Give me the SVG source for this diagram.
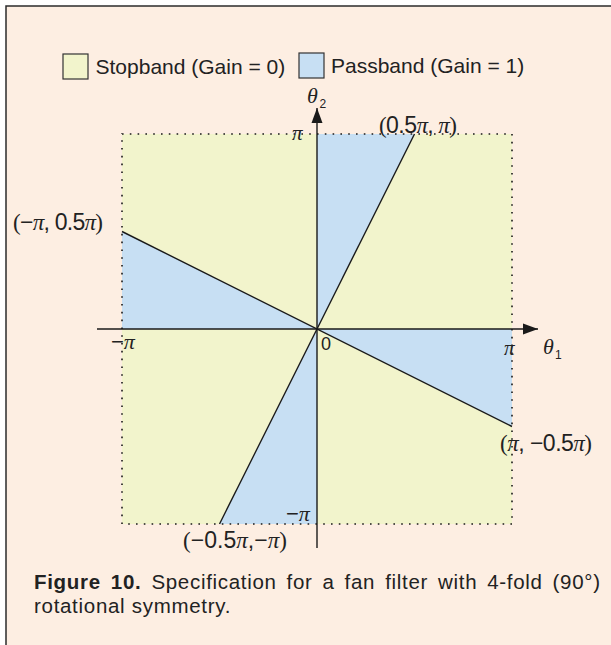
<svg xmlns="http://www.w3.org/2000/svg" width="611" height="645" viewBox="0 0 611 645">
  <defs>
    <style>
      .frame { stroke: #2b2b2b; stroke-width: 1.5; fill: none; }
      .stop { fill: #f2f4cc; }
      .pass { fill: #c7dff3; }
      .edge { stroke: #1a1a1a; stroke-width: 1.4; fill: none; }
      .dotted { stroke: #1a1a1a; stroke-width: 1.6; fill: none; stroke-dasharray: 1.6 6.2; }
      .axis { stroke: #1a1a1a; stroke-width: 1.4; fill: none; }
      .legend { font-family: "Liberation Sans", Arial, sans-serif; font-size: 21px; fill: #222; }
      .sans { font-family: "Liberation Sans", Arial, sans-serif; fill: #222; }
      .serif { font-family: "Liberation Serif", "Times New Roman", serif; }
      .it { font-family: "Liberation Serif", "Times New Roman", serif; font-style: italic; }
      .sub { font-family: "Liberation Sans", Arial, sans-serif; font-size: 12px; fill: #222; }
      .math { font-size: 23px; fill: #222; }
      .cap { font-family: "Liberation Sans", Arial, sans-serif; font-size: 20.5px; letter-spacing: 0.7px; fill: #222; }
      .capb { font-weight: bold; }
    </style>
    <marker id="arrow" markerUnits="userSpaceOnUse" markerWidth="16" markerHeight="12" refX="15" refY="6" orient="auto">
      <path d="M0,0.5 L15,6 L0,11.5 z" fill="#1a1a1a"/>
    </marker>
  </defs>

  <g id="background">
    <rect x="0" y="0" width="611" height="645" fill="#ffffff"/>
    <rect x="6" y="6" width="605" height="639" fill="#fdeee2"/>
    <path class="frame" d="M6,645 L6,6 L611,6"/>
  </g>

  <g id="legend">
    <g id="legend-stopband">
      <rect x="63" y="54" width="25" height="25" class="stop" stroke="#333" stroke-width="1.2"/>
      <text class="legend" x="95.5" y="73.5">Stopband (Gain = 0)</text>
    </g>
    <g id="legend-passband">
      <rect x="299" y="53" width="25" height="25" class="pass" stroke="#333" stroke-width="1.2"/>
      <text class="legend" x="331" y="73">Passband (Gain = 1)</text>
    </g>
  </g>

  <g id="regions">
    <rect id="stopband" x="122" y="134" width="390" height="390" class="stop"/>
    <polygon id="pass-top" class="pass" points="317,329 317,134 414.5,134"/>
    <polygon id="pass-left" class="pass" points="317,329 122,329 122,231.5"/>
    <polygon id="pass-right" class="pass" points="317,329 512,329 512,426.5"/>
    <polygon id="pass-bottom" class="pass" points="317,329 317,524 219.5,524"/>
    <rect id="square" class="dotted" x="122" y="134" width="390" height="390"/>
  </g>

  <g id="connectors">
    <line class="edge" x1="122" y1="231.5" x2="512" y2="426.5"/>
    <line class="edge" x1="219.5" y1="524" x2="414.5" y2="134"/>
    <line class="axis" x1="97" y1="329" x2="538" y2="329" marker-end="url(#arrow)"/>
    <line class="axis" x1="317" y1="548" x2="317" y2="108" marker-end="url(#arrow)"/>
  </g>

  <g id="labels">
    <text x="307" y="103" class="it" font-size="22" fill="#222">θ</text>
    <text x="319.5" y="108" class="sub">2</text>
    <text x="543" y="354" class="it" font-size="22" fill="#222">θ</text>
    <text x="555" y="359" class="sub">1</text>

    <text x="292" y="140" class="it" font-size="21" fill="#222">π</text>
    <text x="111" y="349" font-size="22" fill="#222"><tspan class="sans">−</tspan><tspan class="it">π</tspan></text>
    <text x="321" y="350" class="sans" font-size="18">0</text>
    <text x="504" y="355" class="it" font-size="21" fill="#222">π</text>
    <text x="286" y="521" font-size="22" fill="#222"><tspan class="sans">−</tspan><tspan class="it">π</tspan></text>

    <text x="379" y="133" class="math" textLength="78" lengthAdjust="spacing"><tspan class="serif">(</tspan><tspan class="sans">0.5</tspan><tspan class="it">π</tspan><tspan class="sans">,</tspan><tspan class="it"> π</tspan><tspan class="serif">)</tspan></text>
    <text x="13" y="230" class="math" textLength="90" lengthAdjust="spacing"><tspan class="serif">(</tspan><tspan class="sans">−</tspan><tspan class="it">π</tspan><tspan class="sans">, 0.5</tspan><tspan class="it">π</tspan><tspan class="serif">)</tspan></text>
    <text x="500" y="451" class="math" textLength="92" lengthAdjust="spacing"><tspan class="serif">(</tspan><tspan class="it">π</tspan><tspan class="sans">, −0.5</tspan><tspan class="it">π</tspan><tspan class="serif">)</tspan></text>
    <text x="183" y="548" class="math" textLength="104" lengthAdjust="spacing"><tspan class="serif">(</tspan><tspan class="sans">−0.5</tspan><tspan class="it">π</tspan><tspan class="sans">,−</tspan><tspan class="it">π</tspan><tspan class="serif">)</tspan></text>
  </g>

  <g id="caption">
    <text class="cap" y="589"><tspan class="capb" x="34">Figure</tspan><tspan class="capb" x="110.8">10.</tspan><tspan x="151.4">Specification</tspan><tspan x="286.6">for</tspan><tspan x="322.6">a</tspan><tspan x="344.6">fan</tspan><tspan x="385.2">filter</tspan><tspan x="438">with</tspan><tspan x="487.2">4-fold</tspan><tspan x="552.6">(90°)</tspan></text>
    <text class="cap" x="34" y="613">rotational symmetry.</text>
  </g>
</svg>
